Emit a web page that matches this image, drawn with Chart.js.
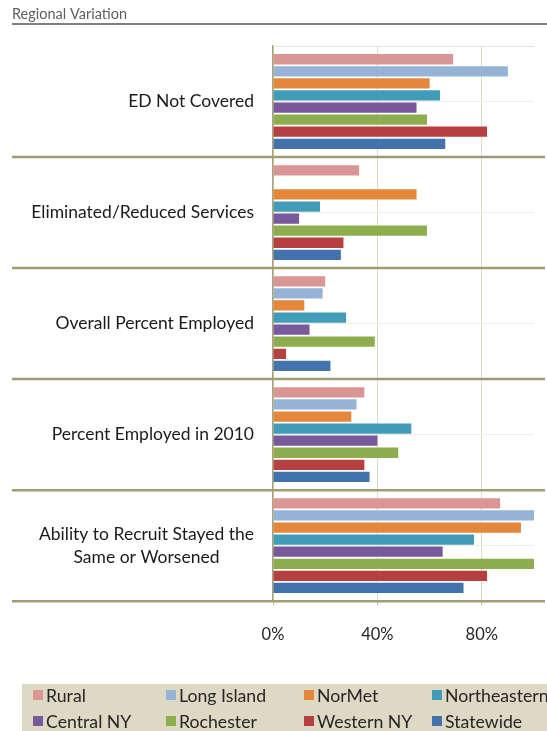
<!DOCTYPE html>
<html>
<head>
<meta charset="utf-8">
<script src="https://cdn.jsdelivr.net/npm/chart.js@4.4.0/dist/chart.umd.min.js"></script>
<style>
  body { margin: 0; background: #fff; }
  canvas { display: block; }
</style>
</head>
<body>
<canvas id="chart" width="547" height="731"></canvas>
<script>
const categories = [
  'ED Not Covered',
  'Eliminated/Reduced Services',
  'Overall Percent Employed',
  'Percent Employed in 2010',
  ['Ability to Recruit Stayed the', 'Same or Worsened']
];
const regions = ['Rural', 'Long Island', 'NorMet', 'Northeastern', 'Central NY', 'Rochester', 'Western NY', 'Statewide'];
const rural = [69, 33, 20, 35, 87];
const longIsland = [90, null, 19, 32, 100];
const norMet = [60, 55, 12, 30, 95];
const northeastern = [64, 18, 28, 53, 77];
const centralNY = [55, 10, 14, 40, 65];
const rochester = [59, 59, 39, 48, 100];
const westernNY = [82, 27, 5, 35, 82];
const statewide = [66, 26, 22, 37, 73];
const tickValues = [0, 40, 80];

const colors = ['#d99694', '#95b3d7', '#e4873b', '#419cb8', '#77599c', '#8dad4e', '#b6403f', '#4373ad'];
const series = [rural, longIsland, norMet, northeastern, centralNY, rochester, westernNY, statewide];

const FONT = 'Lato, "Open Sans", sans-serif';

// title, category separators, labels and the boxed legend
const decor = {
  id: 'decor',
  afterDraw(chart) {
    const ctx = chart.ctx;
    const area = chart.chartArea;
    const y = chart.scales.y;
    ctx.save();

    // title
    ctx.fillStyle = '#5f5f5f';
    ctx.font = '14.5px ' + FONT;
    ctx.textBaseline = 'middle';
    ctx.textAlign = 'left';
    ctx.fillText('Regional Variation', 12, 14);
    ctx.strokeStyle = '#808080';
    ctx.lineWidth = 2;
    ctx.beginPath();
    ctx.moveTo(12, 24);
    ctx.lineTo(547, 24);
    ctx.stroke();

    // top border of plot
    ctx.strokeStyle = '#e4e3da';
    ctx.lineWidth = 1;
    ctx.beginPath();
    ctx.moveTo(area.left, area.top + 0.5);
    ctx.lineTo(area.right, area.top + 0.5);
    ctx.stroke();

    // category separators
    ctx.strokeStyle = '#a19c72';
    ctx.lineWidth = 2.5;
    categories.forEach((c, i) => {
      const yy = i < categories.length - 1
        ? (y.getPixelForValue(i) + y.getPixelForValue(i + 1)) / 2
        : area.bottom;
      ctx.beginPath();
      ctx.moveTo(12, yy);
      ctx.lineTo(545, yy);
      ctx.stroke();
    });

    // category labels
    ctx.fillStyle = '#1a1a1a';
    ctx.font = '17.5px ' + FONT;
    ctx.textAlign = 'center';
    categories.forEach((c, i) => {
      const lines = Array.isArray(c) ? c : [c];
      const w = Math.max(...lines.map(l => ctx.measureText(l).width));
      const cx = area.left - 19 - w / 2;
      const cy = y.getPixelForValue(i);
      const lh = 23;
      lines.forEach((l, k) => {
        ctx.fillText(l, cx, cy + (k - (lines.length - 1) / 2) * lh);
      });
    });

    // legend
    ctx.fillStyle = '#ddd9c4';
    ctx.fillRect(22, 684, 525, 47);
    const colX = [33, 166, 304, 432];
    const rowY = [695, 721];
    ctx.textAlign = 'left';
    ctx.font = '17.7px ' + FONT;
    chart.data.datasets.forEach((ds, i) => {
      const x0 = colX[i % 4];
      const y0 = rowY[Math.floor(i / 4)];
      ctx.fillStyle = ds.backgroundColor;
      ctx.fillRect(x0, y0 - 5, 10, 10);
      ctx.fillStyle = '#262626';
      ctx.fillText(ds.label, x0 + 13, y0 + 1);
    });

    ctx.restore();
  }
};

new Chart(document.getElementById('chart'), {
  type: 'bar',
  plugins: [decor],
  data: {
    labels: categories,
    datasets: regions.map((r, i) => ({
      label: r,
      data: series[i],
      backgroundColor: colors[i],
      borderWidth: 0,
      barPercentage: 0.85,
      categoryPercentage: 0.87
    }))
  },
  options: {
    indexAxis: 'y',
    responsive: false,
    animation: false,
    devicePixelRatio: 1,
    layout: {
      padding: { left: 273, right: 13, top: 46, bottom: 66 }
    },
    plugins: {
      legend: { display: false },
      tooltip: { enabled: false }
    },
    scales: {
      x: {
        min: 0,
        max: 100,
        afterBuildTicks: axis => { axis.ticks = tickValues.map(v => ({ value: v })); },
        ticks: {
          padding: 20,
          color: '#262626',
          font: { family: FONT, size: 16.5 },
          callback: v => v + '%'
        },
        grid: {
          color: '#dcdac8',
          tickColor: '#b8b48e',
          tickLength: 4
        },
        border: { display: false }
      },
      y: {
        ticks: { display: false },
        grid: {
          offset: false,
          color: '#f0efe6',
          drawTicks: false
        },
        border: { color: '#a8a378', width: 1.5 }
      }
    }
  }
});
</script>
</body>
</html>
